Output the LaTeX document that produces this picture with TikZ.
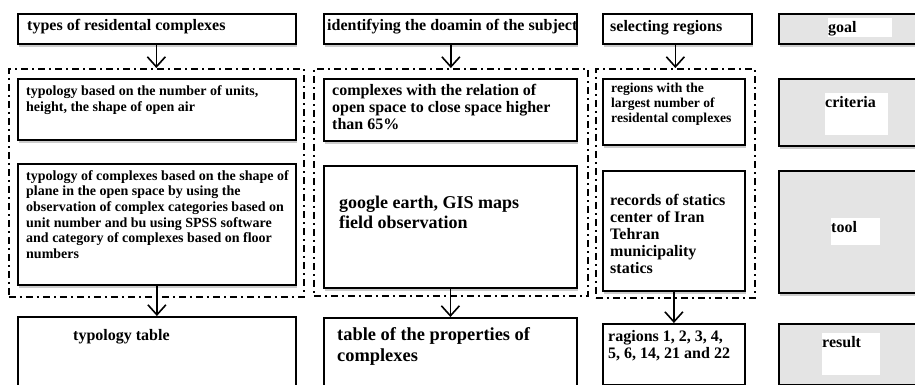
\documentclass[tikz,border=0pt]{standalone}
\usepackage{fontspec}
\setmainfont{Liberation Serif}
\usepackage{tikz}
\usetikzlibrary{calc,arrows.meta,shadows}

\definecolor{panelgrey}{RGB}{228,228,228}

\tikzset{
  box/.style={draw, line width=1.8pt, fill=white, anchor=north west, inner sep=0pt,
    drop shadow={opacity=0.4, shadow xshift=1.5pt, shadow yshift=-3.5pt}},
  keybox/.style={box, fill=panelgrey},
  group/.style={draw, line width=1.7pt, dash pattern=on 7pt off 4pt on 2pt off 4pt,
    anchor=north west, inner sep=0pt},
  txt/.style={anchor=base west, inner sep=0pt, align=left,
    font=\bfseries\fontsize{16}{17}\selectfont},
  tag/.style={fill=white, anchor=north west, inner sep=0pt, align=left,
    text height=14pt, font=\bfseries\fontsize{16}{17}\selectfont},
  arr/.style={line width=1.6pt, -{Straight Barb[length=10pt,width=18pt]}},
}

\begin{document}
\begin{tikzpicture}[x=1pt, y=-1pt]
  \clip (0,0) rectangle (915,385);

  % dashed groups
  \node[group, minimum width=295, minimum height=228] (g1) at (8,68) {};
  \node[group, minimum width=274, minimum height=227] (g2) at (313,68) {};
  \node[group, minimum width=159, minimum height=229] (g3) at (595,68) {};

  % top row
  \node[box, minimum width=278, minimum height=30] (head1) at (17,13) {};
  \node[box, minimum width=253, minimum height=30] (head2) at (323,13) {};
  \node[box, minimum width=149, minimum height=30] (head3) at (602,13) {};
  \node[keybox, minimum width=160, minimum height=30] (goal) at (778,13) {};

  % criteria row
  \node[box, minimum width=278, minimum height=61] (crit1) at (17,78) {};
  \node[box, minimum width=253, minimum height=62] (crit2) at (323,78) {};
  \node[box, minimum width=142, minimum height=66] (crit3) at (602,78) {};
  \node[keybox, minimum width=160, minimum height=67] (criteria) at (778,78) {};

  % tool row
  \node[box, minimum width=278, minimum height=121] (tool1) at (17,163) {};
  \node[box, minimum width=253, minimum height=122] (tool2) at (323,165) {};
  \node[box, minimum width=142, minimum height=120] (tool3) at (602,170) {};
  \node[keybox, minimum width=160, minimum height=122] (tool) at (778,170) {};

  % result row
  \node[box, minimum width=278, minimum height=90] (res1) at (17,316) {};
  \node[box, minimum width=253, minimum height=90] (res2) at (323,317) {};
  \node[box, minimum width=142, minimum height=61] (res3) at (602,323) {};
  \node[keybox, minimum width=160, minimum height=61] (result) at (778,323) {};

  % texts (multi-line ones sit on the baseline of their last line)
  \node[txt] (head1-t) at (27,31) {types of residental complexes};
  \node[txt] (head2-t) at (327,31) {identifying the doamin of the subject};
  \node[txt] (head3-t) at (610,32) {selecting regions};

  \node[txt, font=\bfseries\fontsize{14}{16.5}\selectfont] (crit1-t) at (26,111.5)
    {typology based on the number of units,\\ height, the shape of open air};
  \node[txt, font=\bfseries\fontsize{16}{17.5}\selectfont] (crit2-t) at (332,130)
    {complexes with the relation of\\ open space to close space higher\\ than 65\%};
  \node[txt, font=\bfseries\fontsize{13.6}{14.5}\selectfont] (crit3-t) at (611,122)
    {regions with the\\ largest number of\\ residental complexes};

  \node[txt, font=\bfseries\fontsize{14}{15.7}\selectfont] (tool1-t) at (26,258.5)
    {typology of complexes based on the shape of\\ plane in the open space by using the\\
     observation of complex categories based on\\ unit number and bu using SPSS software\\
     and category of complexes based on floor\\ numbers};
  \node[txt, font=\bfseries\fontsize{18}{20}\selectfont] (tool2-t) at (339,228)
    {google earth, GIS maps\\ field observation};
  \node[txt] (tool3-t) at (610,273)
    {records of statics\\ center of Iran\\ Tehran\\ municipality\\ statics};

  \node[txt] (res1-t) at (73,340) {typology table};
  \node[txt, font=\bfseries\fontsize{18.4}{21.5}\selectfont] (res2-t) at (337,361.5)
    {table of the properties of\\ complexes};
  \node[txt] (res3-t) at (608,358) {ragions 1, 2, 3, 4,\\ 5, 6, 14, 21 and 22};

  % key labels
  \node[tag, text width=64, text depth=5pt] (goal-t) at (828,18) {goal};
  \node[tag, text width=63, text depth=28pt] (criteria-t) at (825,93) {criteria};
  \node[tag, text width=49, text depth=13pt] (tool-t) at (831,218) {tool};
  \node[tag, text width=58, text depth=28pt] (result-t) at (822,333) {result};

  % arrows
  \draw[arr] (g1.north |- head1.south) -- (g1.north);
  \draw[arr] (g2.north |- head2.south) -- (g2.north);
  \draw[arr] (g3.north |- head3.south) -- (g3.north);
  \draw[arr] (tool1.south) -- (res1.north);
  \draw[arr] (tool2.south) -- (res2.north);
  \draw[arr] (tool3.south) -- (res3.north);
\end{tikzpicture}
\end{document}
